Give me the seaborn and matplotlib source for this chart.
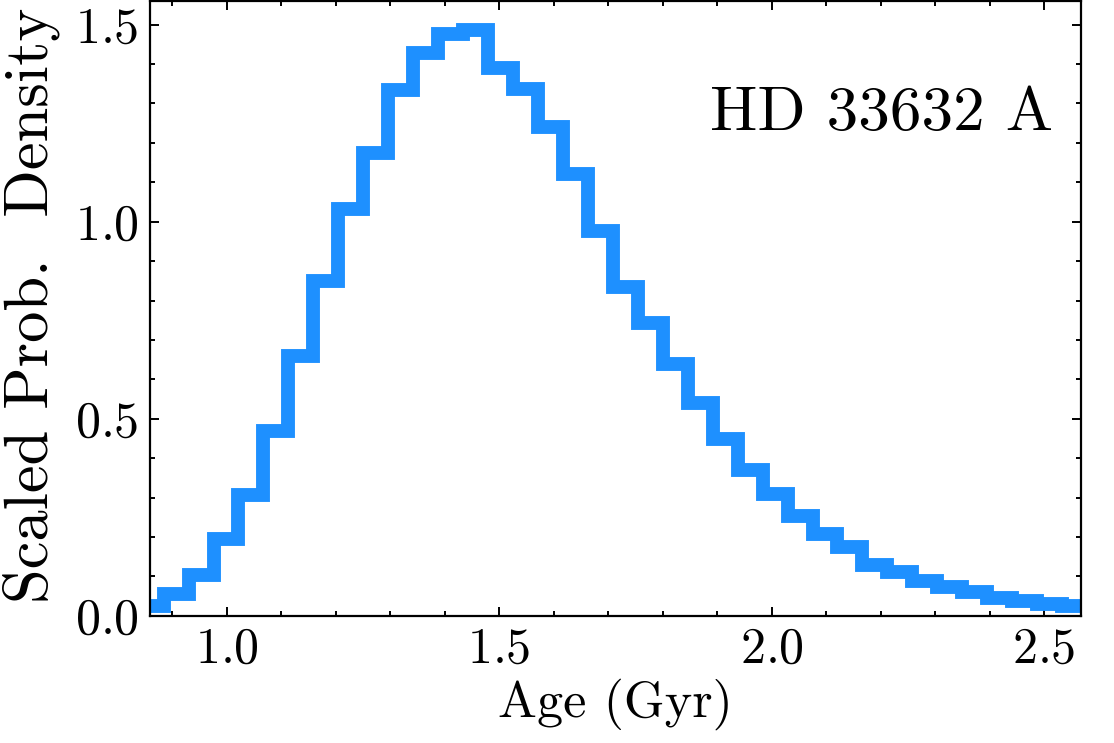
import numpy as np
import pandas as pd
import matplotlib
matplotlib.use("Agg")
import matplotlib.pyplot as plt
import seaborn as sns
from matplotlib.ticker import MultipleLocator

# Histogram of age samples (38 equal bins)
bin_start = 0.8386   # left edge of the first bin (Gyr)
bin_width = 0.0458   # Gyr
density = [0.025, 0.056, 0.103, 0.195, 0.306, 0.470, 0.660, 0.850,
           1.031, 1.175, 1.334, 1.428, 1.476, 1.487, 1.390, 1.338,
           1.241, 1.121, 0.977, 0.834, 0.744, 0.640, 0.541, 0.449,
           0.370, 0.309, 0.253, 0.207, 0.175, 0.129, 0.111, 0.088,
           0.073, 0.060, 0.046, 0.038, 0.030, 0.024]
star_name = "HD 33632 A"

n_bins = len(density)
edges = bin_start + bin_width * np.arange(n_bins + 1)
df = pd.DataFrame({"age": 0.5 * (edges[:-1] + edges[1:]), "density": density})

sns.set_theme(style="ticks")
plt.rcParams["font.family"] = ["cmr10", "DejaVu Serif"]
plt.rcParams["mathtext.fontset"] = "cm"
plt.rcParams["axes.formatter.use_mathtext"] = True
plt.rcParams["lines.solid_joinstyle"] = "miter"
plt.rcParams["lines.solid_capstyle"] = "butt"
for key in ["text.color", "axes.labelcolor", "xtick.color", "ytick.color",
            "axes.edgecolor"]:
    plt.rcParams[key] = "black"

fig = plt.figure(figsize=(11.14, 7.43), dpi=100)
ax = fig.add_axes([0.1346, 0.1713, 0.8355, 0.8273])

sns.histplot(data=df, x="age", weights="density", bins=list(edges),
             element="step", fill=False, color="#1E90FF", linewidth=10, ax=ax)

ax.set_xlim(0.8593, 2.5673)
ax.set_ylim(0.0, 1.560)
ax.xaxis.set_major_locator(MultipleLocator(0.5))
ax.xaxis.set_minor_locator(MultipleLocator(0.1))
ax.yaxis.set_major_locator(MultipleLocator(0.5))
ax.yaxis.set_minor_locator(MultipleLocator(0.1))
ax.tick_params(which="both", direction="in", top=True, right=True,
               width=1.4, colors="black", labelsize=36, pad=8)
ax.tick_params(which="major", length=6.5)
ax.tick_params(which="minor", length=3.6)
for sp in ax.spines.values():
    sp.set_linewidth(1.6)
    sp.set_color("black")

ax.set_xlabel("Age (Gyr)", fontsize=37.5, labelpad=4)
ax.set_ylabel("Scaled Prob.  Density", fontsize=45)
ax.yaxis.set_label_coords(-0.097, 0.505)
ax.text(0.97, 0.79, star_name, transform=ax.transAxes, ha="right",
        va="baseline", fontsize=45.5)

fig.savefig("out.png", dpi=100)
